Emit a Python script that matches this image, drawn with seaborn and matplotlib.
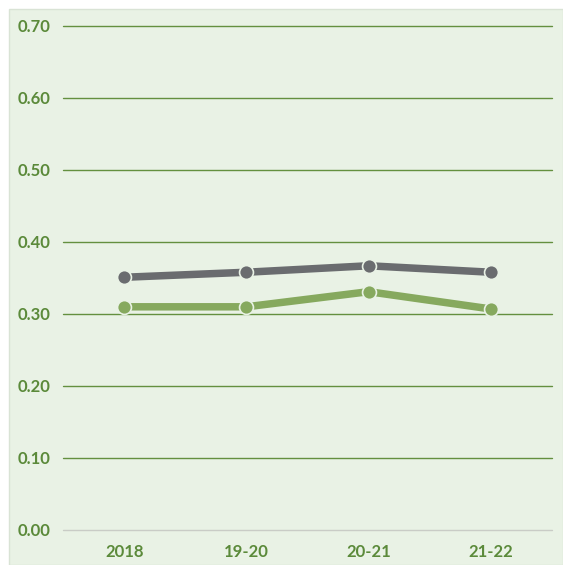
import matplotlib
matplotlib.use("Agg")
import matplotlib.pyplot as plt
import seaborn as sns
import pandas as pd
from matplotlib.patches import Rectangle

categories = ["2018", "19-20", "20-21", "21-22"]
gray_values = [0.351, 0.358, 0.367, 0.358]
green_values = [0.310, 0.310, 0.331, 0.307]
y_ticks = [0.0, 0.1, 0.2, 0.3, 0.4, 0.5, 0.6, 0.7]

df = pd.DataFrame({
    "period": categories * 2,
    "value": gray_values + green_values,
    "series": ["gray"] * 4 + ["green"] * 4,
})

sns.set_theme(style="white")
plt.rcParams['font.family'] = ['Lato', 'DejaVu Sans']

fig = plt.figure(figsize=(5.63, 5.65), dpi=100)
fig.patch.set_facecolor("white")
bg = Rectangle((9 / 563, 0), 1 - 9 / 563, (565 - 9) / 565, transform=fig.transFigure,
               facecolor="#E9F2E5", edgecolor="#D9E3D5", linewidth=1, zorder=-10)
fig.patches.append(bg)

ax = fig.add_axes([63 / 563, 35 / 565, 489 / 563, 504 / 565])
ax.set_zorder(5)
ax.set_facecolor("none")

palette = {"gray": "#6A6C6F", "green": "#86A95E"}
sns.lineplot(data=df, x="period", y="value", hue="series", palette=palette,
             sort=False, linewidth=5.4, marker="o", markersize=10,
             markeredgecolor="#E9F2E5", markeredgewidth=1.2, legend=False, ax=ax,
             zorder=5)

ax.set_xlim(-0.5, 3.5)
ax.set_ylim(0, 0.7)
ax.set_yticks(y_ticks)
ax.set_yticklabels([f"{v:.2f}" for v in y_ticks])
for v in y_ticks:
    if v == 0:
        ax.axhline(v, color="#C9CCC6", linewidth=1.0, zorder=1, clip_on=False)
    else:
        ax.axhline(v, color="#64903F", linewidth=1.0, zorder=1, clip_on=False)

for s in ax.spines.values():
    s.set_visible(False)
ax.set_xlabel("")
ax.set_ylabel("")
ax.tick_params(axis="both", length=0, labelcolor="#5B8A3A", labelsize=12)
ax.tick_params(axis="y", pad=9)
ax.tick_params(axis="x", pad=10)
for lab in ax.get_xticklabels() + ax.get_yticklabels():
    lab.set_fontweight("bold")

fig.savefig("out.png", dpi=100)
